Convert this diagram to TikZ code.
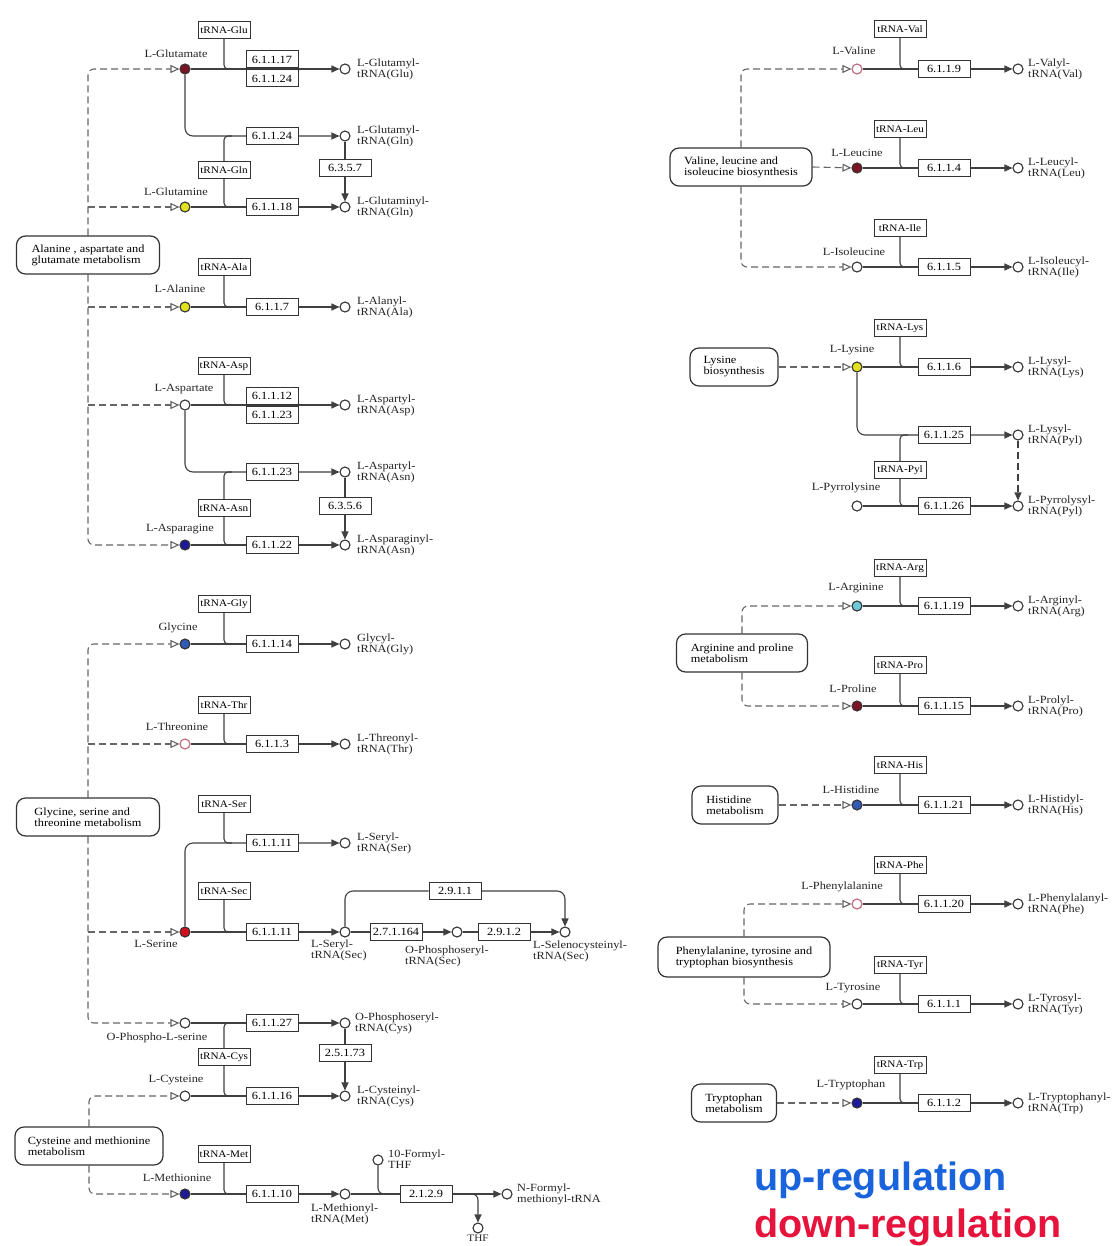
\documentclass[tikz,border=0pt]{standalone}
\usepackage{fontspec}
\newfontfamily\keggserif[FakeStretch=1.12]{Liberation Serif}
\newfontfamily\legsans{Liberation Sans}
\newcommand\kfont{\keggserif\fontsize{11}{11}\selectfont}
\newcommand\kfontt{\keggserif\fontsize{10}{10}\selectfont}
\usetikzlibrary{arrows.meta,calc,backgrounds}
\definecolor{cDR}{RGB}{125,20,35}
\definecolor{cYel}{RGB}{225,225,30}
\definecolor{cDB}{RGB}{30,25,150}
\definecolor{cMB}{RGB}{50,90,180}
\definecolor{cRed}{RGB}{210,15,30}
\definecolor{cCy}{RGB}{110,200,215}
\definecolor{cPk}{RGB}{190,100,120}
\definecolor{cUp}{RGB}{25,100,220}
\definecolor{cDown}{RGB}{230,20,60}
\begin{document}
\begin{tikzpicture}[x=1pt,y=-1pt,
  ln/.style={draw=black!75, line width=1.1pt},
  arr/.style={ln, -{Triangle[length=8pt,width=7pt]}},
  dsh/.style={draw=black!60, line width=1.1pt, dash pattern=on 7pt off 4pt,
              -{Triangle[open,length=9pt,width=8pt,fill=white]}},
  ebox/.style={draw=black!80, line width=1pt, fill=white, minimum width=52pt,
               minimum height=17pt, inner sep=0pt, font=\kfont},
  trna/.style={ebox, font=\kfontt},
  cpd/.style={circle, draw=black!80, line width=1.1pt, fill=white,
              minimum size=10pt, inner sep=0pt},
  pwbox/.style={draw=black!80, line width=1.2pt, rounded corners=9pt, fill=white,
                align=left, font=\kfont, minimum height=38pt, inner xsep=10pt},
  lbl/.style={font=\kfont, inner sep=0pt, text=black!85},
  prd/.style={lbl, align=left, anchor=west},
  prdb/.style={lbl, align=left, anchor=north west},
]
\useasboundingbox (0,0) rectangle (1117,1246);

%================ LEFT COLUMN =================
% --- Glu / Gln
\node[trna] (tGlu) at (224,30) {tRNA-Glu};
\node[lbl] (lGlu) at (176,54) {L-Glutamate};
\node[cpd,fill=cDR] (glu) at (185,69) {};
\node[ebox] (e61117) at (272,59.5) {6.1.1.17};
\node[ebox] (e61124a) at (272,78.5) {6.1.1.24};
\node[cpd] (gluP) at (345,69) {};
\node[prd] (lgluP) at (357,69) {L-Glutamyl-\\tRNA(Glu)};

\node[ebox] (e61124b) at (272,136) {6.1.1.24};
\node[cpd] (glnP1) at (345,136) {};
\node[prd] (lglnP1) at (357,136) {L-Glutamyl-\\tRNA(Gln)};
\node[ebox] (e6357) at (345,168) {6.3.5.7};
\node[trna] (tGln) at (224,170) {tRNA-Gln};
\node[lbl] (lGln) at (176,192) {L-Glutamine};
\node[cpd,fill=cYel] (gln) at (185,207) {};
\node[ebox] (e61118) at (272,207) {6.1.1.18};
\node[cpd] (glnP) at (345,207) {};
\node[prd] (lglnP) at (357,207) {L-Glutaminyl-\\tRNA(Gln)};

\node[pwbox, minimum width=143pt] (aBox) at (88,255) {Alanine , aspartate and\\glutamate metabolism};

% --- Ala
\node[trna] (tAla) at (224,267) {tRNA-Ala};
\node[lbl] (lAla) at (180,289) {L-Alanine};
\node[cpd,fill=cYel] (ala) at (185,307) {};
\node[ebox] (e6117) at (272,307) {6.1.1.7};
\node[cpd] (alaP) at (345,307) {};
\node[prd] (lalaP) at (357,307) {L-Alanyl-\\tRNA(Ala)};

% --- Asp / Asn
\node[trna] (tAsp) at (224,366) {tRNA-Asp};
\node[lbl] (lAsp) at (184,389) {L-Aspartate};
\node[cpd] (asp) at (185,405) {};
\node[ebox] (e61112) at (272,395.5) {6.1.1.12};
\node[ebox] (e61123a) at (272,414.5) {6.1.1.23};
\node[cpd] (aspP) at (345,405) {};
\node[prd] (laspP) at (357,405) {L-Aspartyl-\\tRNA(Asp)};

\node[ebox] (e61123b) at (272,472) {6.1.1.23};
\node[cpd] (asnP1) at (345,472) {};
\node[prd] (lasnP1) at (357,472) {L-Aspartyl-\\tRNA(Asn)};
\node[ebox] (e6356) at (345,506) {6.3.5.6};
\node[trna] (tAsn) at (224,508) {tRNA-Asn};
\node[lbl] (lAsn) at (180,529) {L-Asparagine};
\node[cpd,fill=cDB] (asn) at (185,545) {};
\node[ebox] (e61122) at (272,545) {6.1.1.22};
\node[cpd] (asnP) at (345,545) {};
\node[prd] (lasnP) at (357,545) {L-Asparaginyl-\\tRNA(Asn)};

% --- Gly / Thr / Ser
\node[trna] (tGly) at (224,604) {tRNA-Gly};
\node[lbl] (lGly) at (178,628) {Glycine};
\node[cpd,fill=cMB] (gly) at (185,644) {};
\node[ebox] (e61114) at (272,644) {6.1.1.14};
\node[cpd] (glyP) at (345,644) {};
\node[prd] (lglyP) at (357,644) {Glycyl-\\tRNA(Gly)};

\node[trna] (tThr) at (224,705) {tRNA-Thr};
\node[lbl] (lThr) at (177,727) {L-Threonine};
\node[cpd,draw=cPk] (thr) at (185,744) {};
\node[ebox] (e6113) at (272,744) {6.1.1.3};
\node[cpd] (thrP) at (345,744) {};
\node[prd] (lthrP) at (357,744) {L-Threonyl-\\tRNA(Thr)};

\node[pwbox, minimum width=143pt] (gBox) at (88,817) {Glycine, serine and\\threonine metabolism};

\node[trna] (tSer) at (224,804) {tRNA-Ser};
\node[ebox] (e61111a) at (272,843) {6.1.1.11};
\node[cpd] (serP) at (345,843) {};
\node[prd] (lserP) at (357,843) {L-Seryl-\\tRNA(Ser)};

\node[trna] (tSec) at (224,891) {tRNA-Sec};
\node[cpd,fill=cRed] (ser) at (185,932) {};
\node[lbl] (lSer) at (156,944) {L-Serine};
\node[ebox] (e61111b) at (272,932) {6.1.1.11};
\node[cpd] (ssP) at (345,932) {};
\node[prdb] (lssP) at (311,940) {L-Seryl-\\tRNA(Sec)};
\node[ebox] (e271164) at (396,932) {2.7.1.164};
\node[cpd] (opsP) at (457,932) {};
\node[prdb] (lopsP) at (405,946) {O-Phosphoseryl-\\tRNA(Sec)};
\node[ebox] (e2912) at (504,932) {2.9.1.2};
\node[cpd] (selP) at (565,932) {};
\node[prdb] (lselP) at (533,941) {L-Selenocysteinyl-\\tRNA(Sec)};
\node[ebox] (e2911) at (455,891) {2.9.1.1};

% --- O-Phospho-L-serine / Cys
\node[cpd] (ops) at (185,1023) {};
\node[lbl] (lOps) at (157,1038) {O-Phospho-L-serine};
\node[ebox] (e61127) at (272,1023) {6.1.1.27};
\node[cpd] (opsC) at (345,1023) {};
\node[prd] (lopsC) at (355,1023) {O-Phosphoseryl-\\tRNA(Cys)};
\node[ebox] (e25173) at (345,1053) {2.5.1.73};
\node[trna] (tCys) at (224,1057) {tRNA-Cys};
\node[lbl] (lCys) at (176,1080) {L-Cysteine};
\node[cpd] (cys) at (185,1096) {};
\node[ebox] (e61116) at (272,1096) {6.1.1.16};
\node[cpd] (cysP) at (345,1096) {};
\node[prd] (lcysP) at (357,1096) {L-Cysteinyl-\\tRNA(Cys)};

\node[pwbox, minimum width=148pt] (cBox) at (89,1146) {Cysteine and methionine\\metabolism};

% --- Met
\node[trna] (tMet) at (224,1154) {tRNA-Met};
\node[lbl] (lMet) at (177,1178) {L-Methionine};
\node[cpd,fill=cDB] (met) at (185,1194) {};
\node[ebox] (e61110) at (272,1194) {6.1.1.10};
\node[cpd] (metP) at (345,1194) {};
\node[prdb] (lmetP) at (311,1204) {L-Methionyl-\\tRNA(Met)};
\node[cpd] (fthf) at (378,1160) {};
\node[prd] (lfthf) at (388,1159) {10-Formyl-\\THF};
\node[ebox] (e2129) at (426,1194) {2.1.2.9};
\node[cpd] (nfP) at (507,1194) {};
\node[prd] (lnfP) at (517,1194) {N-Formyl-\\methionyl-tRNA};
\node[cpd] (thf) at (478,1228) {};
\node[lbl,anchor=north,font=\kfontt] (lthf) at (478,1235) {THF};
\coordinate (fj) at (390,1194);
\coordinate (tj) at (466,1194);

%================ RIGHT COLUMN =================
\node[trna] (tVal) at (900,29) {tRNA-Val};
\node[lbl] (lVal) at (854,51) {L-Valine};
\node[cpd,draw=cPk] (val) at (857,69) {};
\node[ebox] (e6119) at (944,69) {6.1.1.9};
\node[cpd] (valP) at (1018,69) {};
\node[prd] (lvalP) at (1028,69) {L-Valyl-\\tRNA(Val)};

\node[pwbox, minimum width=142pt] (vBox) at (741,167) {Valine, leucine and\\isoleucine biosynthesis};

\node[trna] (tLeu) at (900,129) {tRNA-Leu};
\node[lbl] (lLeu) at (857,153) {L-Leucine};
\node[cpd,fill=cDR] (leu) at (857,168) {};
\node[ebox] (e6114) at (944,168) {6.1.1.4};
\node[cpd] (leuP) at (1018,168) {};
\node[prd] (lleuP) at (1028,168) {L-Leucyl-\\tRNA(Leu)};

\node[trna] (tIle) at (900,228) {tRNA-Ile};
\node[lbl] (lIle) at (854,252) {L-Isoleucine};
\node[cpd] (ile) at (857,267) {};
\node[ebox] (e6115) at (944,267) {6.1.1.5};
\node[cpd] (ileP) at (1018,267) {};
\node[prd] (lileP) at (1028,267) {L-Isoleucyl-\\tRNA(Ile)};

\node[pwbox, minimum width=88pt] (lBox) at (734,367) {Lysine\\biosynthesis};
\node[trna] (tLys) at (900,328) {tRNA-Lys};
\node[lbl] (lLys) at (852,350) {L-Lysine};
\node[cpd,fill=cYel] (lys) at (857,367) {};
\node[ebox] (e6116) at (944,367) {6.1.1.6};
\node[cpd] (lysP) at (1018,367) {};
\node[prd] (llysP) at (1028,367) {L-Lysyl-\\tRNA(Lys)};
\node[ebox] (e61125) at (944,435) {6.1.1.25};
\node[cpd] (lysP2) at (1018,435) {};
\node[prd] (llysP2) at (1028,435) {L-Lysyl-\\tRNA(Pyl)};
\node[trna] (tPyl) at (900,470) {tRNA-Pyl};
\node[lbl] (lPyl) at (846,488) {L-Pyrrolysine};
\node[cpd] (pyl) at (857,506) {};
\node[ebox] (e61126) at (944,506) {6.1.1.26};
\node[cpd] (pylP) at (1018,506) {};
\node[prd] (lpylP) at (1028,506) {L-Pyrrolysyl-\\tRNA(Pyl)};

\node[trna] (tArg) at (900,568) {tRNA-Arg};
\node[lbl] (lArg) at (856,588) {L-Arginine};
\node[cpd,fill=cCy] (arg) at (857,606) {};
\node[ebox] (e61119) at (944,606) {6.1.1.19};
\node[cpd] (argP) at (1018,606) {};
\node[prd] (largP) at (1028,606) {L-Arginyl-\\tRNA(Arg)};
\node[pwbox, minimum width=131pt] (rBox) at (742,653) {Arginine and proline\\metabolism};
\node[trna] (tPro) at (900,665) {tRNA-Pro};
\node[lbl] (lPro) at (853,689) {L-Proline};
\node[cpd,fill=cDR] (pro) at (857,706) {};
\node[ebox] (e61115) at (944,706) {6.1.1.15};
\node[cpd] (proP) at (1018,706) {};
\node[prd] (lproP) at (1028,706) {L-Prolyl-\\tRNA(Pro)};

\node[pwbox, minimum width=86pt] (hBox) at (735,805) {Histidine\\metabolism};
\node[trna] (tHis) at (900,765) {tRNA-His};
\node[lbl] (lHis) at (851,790) {L-Histidine};
\node[cpd,fill=cMB] (his) at (857,805) {};
\node[ebox] (e61121) at (944,805) {6.1.1.21};
\node[cpd] (hisP) at (1018,805) {};
\node[prd] (lhisP) at (1028,805) {L-Histidyl-\\tRNA(His)};

\node[trna] (tPhe) at (900,865) {tRNA-Phe};
\node[lbl] (lPhe) at (842,887) {L-Phenylalanine};
\node[cpd,draw=cPk] (phe) at (857,904) {};
\node[ebox] (e61120) at (944,904) {6.1.1.20};
\node[cpd] (pheP) at (1018,904) {};
\node[prd] (lpheP) at (1028,904) {L-Phenylalanyl-\\tRNA(Phe)};
\node[pwbox, minimum width=172pt, minimum height=40pt] (pBox) at (744,957) {Phenylalanine, tyrosine and\\tryptophan biosynthesis};
\node[trna] (tTyr) at (900,965) {tRNA-Tyr};
\node[lbl] (lTyr) at (853,988) {L-Tyrosine};
\node[cpd] (tyr) at (857,1004) {};
\node[ebox] (e6111) at (944,1004) {6.1.1.1};
\node[cpd] (tyrP) at (1018,1004) {};
\node[prd] (ltyrP) at (1028,1004) {L-Tyrosyl-\\tRNA(Tyr)};

\node[pwbox, minimum width=85pt] (trBox) at (734,1103) {Tryptophan\\metabolism};
\node[trna] (tTrp) at (900,1065) {tRNA-Trp};
\node[lbl] (lTrp) at (851,1085) {L-Tryptophan};
\node[cpd,fill=cDB] (trp) at (857,1103) {};
\node[ebox] (e6112) at (944,1103) {6.1.1.2};
\node[cpd] (trpP) at (1018,1103) {};
\node[prd] (ltrpP) at (1028,1103) {L-Tryptophanyl-\\tRNA(Trp)};

% legend
\node[anchor=base west, inner sep=0pt, text=cUp, font=\legsans\bfseries\fontsize{39.5}{40}\selectfont] (up) at (754,1190) {up-regulation};
\node[anchor=base west, inner sep=0pt, text=cDown, font=\legsans\bfseries\fontsize{39.5}{40}\selectfont] (down) at (754,1237) {down-regulation};

%================ CONNECTORS (background) =================
\begin{scope}[on background layer]
\fill[white] (0,0) rectangle (1117,1246);
% dashed pathway links
\draw[dsh,rounded corners=6pt] (aBox.north) |- (glu);
\draw[dsh] (aBox.north |- gln) -- (gln);
\draw[dsh,rounded corners=6pt] (aBox.south) |- (asn);
\draw[dsh] (aBox.south |- ala) -- (ala);
\draw[dsh] (aBox.south |- asp) -- (asp);
\draw[dsh,rounded corners=6pt] (gBox.north) |- (gly);
\draw[dsh] (gBox.north |- thr) -- (thr);
\draw[dsh,rounded corners=6pt] (gBox.south) |- (ops);
\draw[dsh] (gBox.south |- ser) -- (ser);
\draw[dsh,rounded corners=6pt] (cBox.north) |- (cys);
\draw[dsh,rounded corners=6pt] (cBox.south) |- (met);
\draw[dsh,rounded corners=6pt] (vBox.north) |- (val);
\draw[dsh] (vBox.east) -- (leu);
\draw[dsh,rounded corners=6pt] (vBox.south) |- (ile);
\draw[dsh] (lBox.east) -- (lys);
\draw[dsh,rounded corners=6pt] (rBox.north) |- (arg);
\draw[dsh,rounded corners=6pt] (rBox.south) |- (pro);
\draw[dsh] (hBox.east) -- (his);
\draw[dsh,rounded corners=6pt] (pBox.north) |- (phe);
\draw[dsh,rounded corners=6pt] (pBox.south) |- (tyr);
\draw[dsh] (trBox.east) -- (trp);

% reactions left
\draw[arr] (glu) -- (gluP);
\draw[arr,rounded corners=8pt] (glu) |- (glnP1);
\draw[arr] (glnP1) -- (glnP);
\draw[arr] (gln) -- (glnP);
\draw[arr] (ala) -- (alaP);
\draw[arr] (asp) -- (aspP);
\draw[arr,rounded corners=8pt] (asp) |- (asnP1);
\draw[arr] (asnP1) -- (asnP);
\draw[arr] (asn) -- (asnP);
\draw[arr] (gly) -- (glyP);
\draw[arr] (thr) -- (thrP);
\draw[arr,rounded corners=8pt] (ser) |- (serP);
\draw[arr] (ser) -- (ssP);
\draw[arr] (ssP) -- (opsP);
\draw[arr] (opsP) -- (selP);
\draw[arr,rounded corners=8pt] (ssP) |- (e2911) -| (selP);
\draw[arr] (ops) -- (opsC);
\draw[arr] (opsC) -- (cysP);
\draw[arr] (cys) -- (cysP);
\draw[arr] (met) -- (metP);
\draw[arr] (metP) -- (nfP);
\draw[ln,rounded corners=6pt] (fthf) |- (fj);
\draw[arr,rounded corners=6pt] (tj) -| (thf);

% tRNA joins left
\draw[ln,rounded corners=4pt] (tGlu) |- ($(tGlu |- glu)+(8,0)$);
\draw[ln,rounded corners=4pt] ($(tGln |- glnP1)+(8,0)$) -| (tGln) |- ($(tGln |- gln)+(8,0)$);
\draw[ln,rounded corners=4pt] (tAla) |- ($(tAla |- ala)+(8,0)$);
\draw[ln,rounded corners=4pt] (tAsp) |- ($(tAsp |- asp)+(8,0)$);
\draw[ln,rounded corners=4pt] ($(tAsn |- asnP1)+(8,0)$) -| (tAsn) |- ($(tAsn |- asn)+(8,0)$);
\draw[ln,rounded corners=4pt] (tGly) |- ($(tGly |- gly)+(8,0)$);
\draw[ln,rounded corners=4pt] (tThr) |- ($(tThr |- thr)+(8,0)$);
\draw[ln,rounded corners=4pt] (tSer) |- ($(tSer |- serP)+(8,0)$);
\draw[ln,rounded corners=4pt] (tSec) |- ($(tSec |- ser)+(8,0)$);
\draw[ln,rounded corners=4pt] ($(tCys |- ops)+(8,0)$) -| (tCys) |- ($(tCys |- cys)+(8,0)$);
\draw[ln,rounded corners=4pt] (tMet) |- ($(tMet |- met)+(8,0)$);

% reactions right
\draw[arr] (val) -- (valP);
\draw[arr] (leu) -- (leuP);
\draw[arr] (ile) -- (ileP);
\draw[arr] (lys) -- (lysP);
\draw[arr,rounded corners=8pt] (lys) |- (lysP2);
\draw[ln,dash pattern=on 7pt off 4pt,-{Triangle[length=8pt,width=7pt]}] (lysP2) -- (pylP);
\draw[arr] (pyl) -- (pylP);
\draw[arr] (arg) -- (argP);
\draw[arr] (pro) -- (proP);
\draw[arr] (his) -- (hisP);
\draw[arr] (phe) -- (pheP);
\draw[arr] (tyr) -- (tyrP);
\draw[arr] (trp) -- (trpP);

% tRNA joins right
\draw[ln,rounded corners=4pt] (tVal) |- ($(tVal |- val)+(8,0)$);
\draw[ln,rounded corners=4pt] (tLeu) |- ($(tLeu |- leu)+(8,0)$);
\draw[ln,rounded corners=4pt] (tIle) |- ($(tIle |- ile)+(8,0)$);
\draw[ln,rounded corners=4pt] (tLys) |- ($(tLys |- lys)+(8,0)$);
\draw[ln,rounded corners=4pt] ($(tPyl |- lysP2)+(8,0)$) -| (tPyl) |- ($(tPyl |- pyl)+(8,0)$);
\draw[ln,rounded corners=4pt] (tArg) |- ($(tArg |- arg)+(8,0)$);
\draw[ln,rounded corners=4pt] (tPro) |- ($(tPro |- pro)+(8,0)$);
\draw[ln,rounded corners=4pt] (tHis) |- ($(tHis |- his)+(8,0)$);
\draw[ln,rounded corners=4pt] (tPhe) |- ($(tPhe |- phe)+(8,0)$);
\draw[ln,rounded corners=4pt] (tTyr) |- ($(tTyr |- tyr)+(8,0)$);
\draw[ln,rounded corners=4pt] (tTrp) |- ($(tTrp |- trp)+(8,0)$);
\end{scope}
\end{tikzpicture}
\end{document}
